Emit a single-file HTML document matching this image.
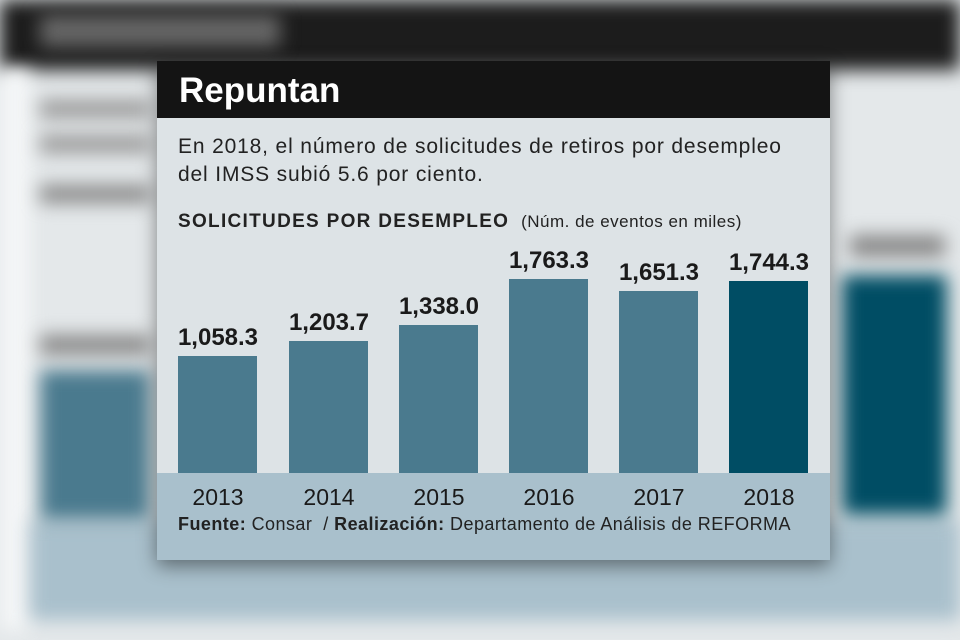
<!DOCTYPE html>
<html><head><meta charset="utf-8"><style>
body{margin:0;width:960px;height:640px;overflow:hidden;background:#e4e8ea;font-family:"Liberation Sans",sans-serif;position:relative}
.bg{position:absolute;filter:blur(9px)}
.card{position:absolute;left:157px;top:61px;width:673px;height:499px;background:#dde3e6;box-shadow:0 6px 18px rgba(0,0,0,.45);overflow:hidden}
.hd{position:absolute;left:0;top:0;width:100%;height:57px;background:#141414;color:#fff;font-weight:bold;font-size:35px;line-height:60px;padding-left:22px;box-sizing:border-box}
.ft{position:absolute;left:0;top:412px;width:100%;height:87px;background:#a9c0cc}
.t{position:absolute;color:#222;white-space:nowrap}
.bar{position:absolute;width:79px;background:#4a7a8e}
.v{position:absolute;width:110px;text-align:center;font-weight:bold;font-size:24px;color:#1a1a1a}
.y{position:absolute;width:110px;text-align:center;font-size:23px;color:#1a1a1a}
</style></head><body>
<div class="bg" style="left:0;top:0;width:960px;height:70px;background:#1c1c1c"></div>
<div class="bg" style="left:40px;top:15px;width:240px;height:32px;background:#666"></div>
<div class="bg" style="left:0;top:70px;width:30px;height:560px;background:#f4f6f7"></div>
<div class="bg" style="left:40px;top:100px;width:110px;height:18px;background:#999"></div>
<div class="bg" style="left:40px;top:135px;width:110px;height:18px;background:#999"></div>
<div class="bg" style="left:40px;top:185px;width:110px;height:18px;background:#888"></div>
<div class="bg" style="left:30px;top:520px;width:930px;height:100px;background:#a9c0cc"></div>
<div class="bg" style="left:40px;top:370px;width:110px;height:150px;background:#4a7a8e"></div>
<div class="bg" style="left:40px;top:335px;width:110px;height:20px;background:#888"></div>
<div class="bg" style="left:842px;top:275px;width:105px;height:240px;background:#004d64"></div>
<div class="bg" style="left:850px;top:235px;width:95px;height:22px;background:#888"></div>
<div class="card">
<div class="hd">Repuntan</div>
<div class="ft"></div>
<div class="t" style="left:21px;top:72px;font-size:21px;line-height:28px;letter-spacing:0.85px">En 2018, el número de solicitudes de retiros por desempleo<br>del IMSS subió 5.6 por ciento.</div>
<div class="t" style="left:21px;top:150px;font-size:19px;font-weight:bold;letter-spacing:1.3px">SOLICITUDES POR DESEMPLEO <span style="font-weight:normal;font-size:17px;letter-spacing:0.5px">&nbsp;(Núm. de eventos en miles)</span></div>
<div class="bar" style="left:21px;top:295px;height:117px"></div>
<div class="bar" style="left:132px;top:280px;height:132px"></div>
<div class="bar" style="left:242px;top:264px;height:148px"></div>
<div class="bar" style="left:352px;top:218px;height:194px"></div>
<div class="bar" style="left:462px;top:230px;height:182px"></div>
<div class="bar" style="left:572px;top:220px;height:192px;background:#004d64"></div>
<div class="v" style="left:6px;top:263px">1,058.3</div>
<div class="v" style="left:117px;top:248px">1,203.7</div>
<div class="v" style="left:227px;top:232px">1,338.0</div>
<div class="v" style="left:337px;top:186px">1,763.3</div>
<div class="v" style="left:447px;top:198px">1,651.3</div>
<div class="v" style="left:557px;top:188px">1,744.3</div>
<div class="y" style="left:6px;top:423px">2013</div>
<div class="y" style="left:117px;top:423px">2014</div>
<div class="y" style="left:227px;top:423px">2015</div>
<div class="y" style="left:337px;top:423px">2016</div>
<div class="y" style="left:447px;top:423px">2017</div>
<div class="y" style="left:557px;top:423px">2018</div>
<div class="t" style="left:21px;top:453px;font-size:18px;letter-spacing:0.45px"><b>Fuente:</b> Consar &nbsp;/ <b>Realización:</b> Departamento de Análisis de REFORMA</div>
</div>
</body></html>
